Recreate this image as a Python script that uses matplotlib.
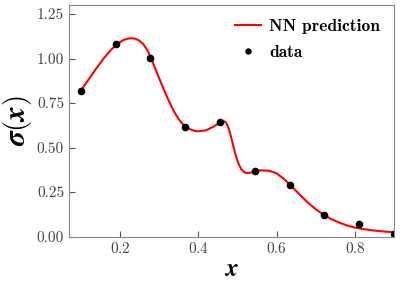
import matplotlib
matplotlib.use('Agg')
import matplotlib.pyplot as plt

# data points
x_data = [0.100, 0.189, 0.278, 0.367, 0.456, 0.544, 0.633, 0.722, 0.811, 0.900]
y_data = [0.820, 1.081, 1.002, 0.617, 0.641, 0.366, 0.287, 0.122, 0.070, 0.015]

# NN prediction curve
x_nn = [0.100, 0.120, 0.140, 0.160, 0.180, 0.200, 0.210, 0.220, 0.230, 0.240,
        0.250, 0.260, 0.270, 0.280, 0.290, 0.300, 0.310, 0.320, 0.330, 0.340,
        0.350, 0.360, 0.370, 0.380, 0.390, 0.400, 0.420, 0.440, 0.455, 0.465,
        0.470, 0.475, 0.480, 0.485, 0.490, 0.495, 0.500, 0.505, 0.510, 0.515,
        0.520, 0.525, 0.540, 0.560, 0.580, 0.600, 0.620, 0.640, 0.660, 0.680,
        0.700, 0.720, 0.740, 0.760, 0.780, 0.800, 0.820, 0.840, 0.860, 0.880,
        0.900]
y_nn = [0.820, 0.882, 0.945, 1.005, 1.055, 1.092, 1.105, 1.112, 1.114, 1.111,
        1.100, 1.080, 1.047, 1.000, 0.945, 0.890, 0.837, 0.786, 0.738, 0.695,
        0.660, 0.632, 0.614, 0.602, 0.594, 0.591, 0.597, 0.619, 0.640, 0.648,
        0.643, 0.623, 0.590, 0.548, 0.503, 0.460, 0.425, 0.398, 0.378, 0.366,
        0.359, 0.356, 0.362, 0.372, 0.370, 0.355, 0.321, 0.278, 0.233, 0.190,
        0.153, 0.122, 0.097, 0.078, 0.062, 0.050, 0.042, 0.036, 0.031, 0.027,
        0.024]

plt.rcParams.update({
    'font.family': 'serif',
    'font.serif': ['cmr10'],
    'mathtext.fontset': 'cm',
    'axes.formatter.use_mathtext': True,
    'axes.unicode_minus': False,
})

fig, ax = plt.subplots(figsize=(4.01, 2.86), dpi=100)

ax.plot(x_nn, y_nn, color='red', lw=1.5, label='NN prediction')
ax.plot(x_data, y_data, 'o', color='black', ms=4.5, label='data')

ax.set_xlim(0.07, 0.9)
ax.set_ylim(0, 1.3)
ax.set_xticks([0.2, 0.4, 0.6, 0.8])
ax.set_yticks([0, 0.25, 0.5, 0.75, 1.0, 1.25])
ax.set_yticklabels(['0.00', '0.25', '0.50', '0.75', '1.00', '1.25'])

for s in ax.spines.values():
    s.set_color('#888888')
ax.tick_params(direction='in', length=4, color='#555555', labelsize=11,
               labelcolor='#444444')

ax.set_xlabel(r'$\boldsymbol{x}$', fontsize=18, labelpad=2)
ax.set_ylabel(r'$\boldsymbol{\sigma(x)}$', fontsize=21, labelpad=2)

leg = ax.legend(loc='upper right', frameon=False,
                prop={'family': 'cmb10', 'size': 12.5},
                handlelength=1.5, handletextpad=0.5, markerscale=0.8,
                labelspacing=0.6, borderaxespad=0.4)

fig.subplots_adjust(left=0.172, right=0.983, top=0.982, bottom=0.173)
fig.savefig('out.png', dpi=100)
